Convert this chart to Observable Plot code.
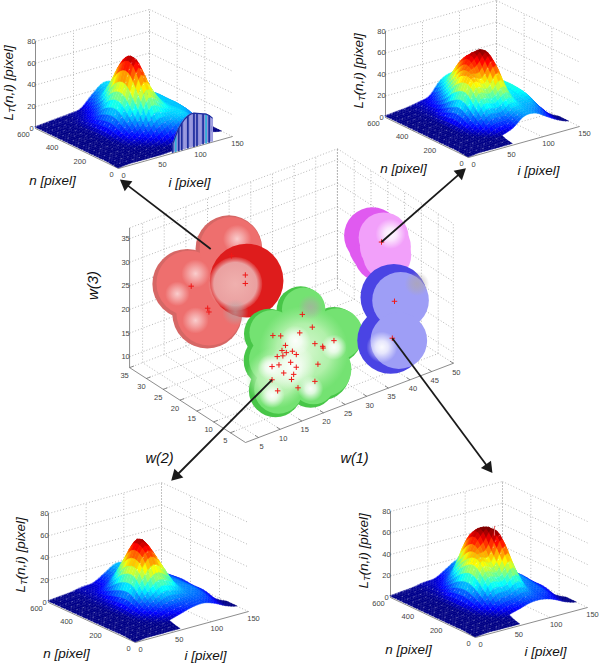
<!DOCTYPE html>
<html><head><meta charset="utf-8">
<style>html,body{margin:0;padding:0;background:#fff}svg{display:block}</style>
<script src="https://cdn.jsdelivr.net/npm/d3@7"></script>
<script src="https://cdn.jsdelivr.net/npm/@observablehq/plot@0.6"></script>
</head><body><script>
// ---------- surface data: L_T(n,i) (rows n=600..0, columns i=0..150) ----------
const nValues=[600,525,450,375,300,225,150,75,0];
const iValues=[0,15,30,45,60,75,90,105,120,135,150];
const _=null;
const surfaceTopLeft=[
[1,2,3,4,6,16,24,22,16,8,_],
[1,2,3,5,10,22,24,24,18,9,_],
[1,1,3,8,18,40,28,24,20,10,_],
[1,1,3,12,34,62,40,26,22,10,_],
[1,1,3,14,38,68,44,26,22,10,_],
[1,1,2,10,26,50,36,24,22,10,_],
[1,1,2,6,12,26,24,24,20,8,0],
[1,1,1,2,5,10,18,22,14,3,0],
[0,1,1,1,1,2,3,6,_,_,_]];
const surfaceTopRight=[
[1,2,3,5,8,20,24,22,18,8,_],
[1,2,3,6,14,30,28,24,20,9,_],
[1,1,3,8,26,48,34,24,22,10,_],
[1,1,3,14,40,56,58,26,24,10,_],
[1,1,3,18,42,40,54,24,24,10,_],
[1,1,3,12,28,26,34,20,22,9,_],
[1,1,2,6,14,14,20,18,16,6,0],
[1,1,1,2,4,8,16,16,10,4,0],
[0,1,1,1,1,_,_,_,_,_,_]];
const surfaceBottomLeft=[
[1,2,3,5,6,12,18,16,12,6,_],
[1,2,3,5,8,16,20,16,14,7,_],
[1,1,3,7,20,36,26,16,14,8,_],
[1,1,3,10,34,56,42,18,14,9,_],
[1,1,3,12,36,50,38,18,14,8,_],
[1,1,2,9,20,28,24,16,14,8,_],
[1,1,2,5,10,14,14,14,12,5,0],
[1,1,1,2,4,7,10,11,8,3,0],
[0,1,1,1,1,_,_,_,_,_,_]];
const surfaceBottomRight=[
[1,2,3,5,6,12,18,16,12,6,_],
[1,2,3,5,10,20,22,16,14,7,_],
[1,1,3,8,24,50,42,20,14,8,_],
[1,1,3,14,38,60,60,24,16,9,_],
[1,1,3,16,42,42,60,24,16,8,_],
[1,1,3,12,30,28,40,18,14,8,_],
[1,1,2,6,14,16,20,14,12,5,0],
[1,1,1,2,5,8,11,11,8,3,0],
[0,1,1,1,1,_,_,_,_,_,_]];
// front wall arch seen in the top-left panel
const wallI=[72,76,80,84,88,92,96,100,104,108,112,116,120,124];
const wallZ=[8,15,21,25,28,30,31,31,30,29,28,27,25,22];
const wallTone=[0,1,0,0,2,0,2,0,0,2,0,1,0,2];
// spike in the bottom-right panel
const spike={n:330,i:88,z:67,base:58};
// ---------- tick labels ----------
const nTicks=[0,200,400,600], iTicks=[0,50,100,150], zTicks=[0,20,40,60,80];
const w1Ticks=[5,10,15,20,25,30,35,40,45,50], w2Ticks=[5,10,15,20,25,30,35], w3Ticks=[10,15,20,25,30,35];
// ---------- feature clusters [w1,w2,w3] ----------
const greenPoints=[[22.5,23.3],[24.8,19.8],[21.9,19.6],[15.7,21.2],[17.5,20.5],[18.6,18.1],[17.8,17.3],[18.8,16.5],[20.2,16.3],[21.1,15.3],[16.7,16.4],[18,16.1],[25.4,16.1],[27.2,14.9],[27.3,14.5],[29.8,15.2],[15.5,14.7],[17.1,14.5],[19.8,14.1],[21.1,12.6],[26.1,11.5],[18.2,12.4],[20.5,11.3],[20,10.4],[15.5,11.9],[25.4,8.1],[21.5,8.1],[16.8,9.1]].map(d=>[d[0],10,d[1]]);
const redPoints=[[20.1,28,28.3],[23.3,28,23.1],[23.3,28,21.3],[10.8,28,25.1],[14.6,28,19.1],[14.9,28,18.2]];
const magentaPoints=[[36.9,5,35.9]];
const bluePoints=[[39.9,5,22.3],[39.4,5,14.65]];
// spheres [w1,w2,w3,radius]
const redSpheres=[[9.9,28,25.9,7.4],[19.5,28,30,7.06],[14.5,28,18,7.4]];
const redFront=[[23.6,28,21.8,7.8]];
const redHollow=[[21,28,22,5.7]];
const redShade=[[21,28,16,2.8]];
const redGlints=[[21.4,28,31.4,3],[11.8,28,27.4,3],[7.6,28,24.6,2.6],[11.8,28,17.5,2.8]];
const greenSpheres=[[22.1,10,24.3,5.1],[14.8,10,21.9,5.3],[29.8,10,16.3,6],[16.3,10,9.35,5.65],[24.4,10,7.95,5.1],[15.1,10,16.1,5.65],[22.8,10,15.5,7.8],[26.7,10,10,6.4]];
const greenPale=[[22.8,10,15.5,9.5],[16.5,10,12,6.5]];
const greenGlints=[[20.9,10,18.3,3.2],[29.8,10,13.8,2.7],[15.1,10,14.7,2.7],[15.5,10,8.6,2.7],[24.4,10,6.9,2.7],[20.1,10,13,5]];
const greenGrey=[[24.4,10,24.2,2.6]];
const magentaSpheres=[[34.8,5,38,6],[36,5,35.7,6.2],[37,5,33.4,6]];
const magentaBody=[[37.4,5,36.7,5.3],[37.8,5,34.6,5.4],[38.2,5,32.6,5.1]];
const blueSpheres=[[39.75,5,23.2,7.06],[39,5,14.3,7.06]];
const blueBody=[[41.3,5,22,6],[40.9,5,13.6,6]];
const whiteGlints=[[39,5,36.9,3.2],[37,5,13.6,3.3]];
const blueGrey=[[45.1,5,24.2,2.6]];

// ---------- layout ----------
const panels=[
 {g:surfaceTopLeft,o:[118,168],N:[-83,-40],I:[114,-32],Z:87,nl:[52,180],il:[189,182],zl:[8,120]},
 {g:surfaceTopRight,o:[468,157],N:[-83,-40],I:[111,-31],Z:86,nl:[403,168],il:[538,170],zl:[358,108]},
 {g:surfaceBottomLeft,o:[135,642],N:[-87,-40],I:[113,-31],Z:89,nl:[66,653],il:[205,655],zl:[20,592]},
 {g:surfaceBottomRight,o:[475,637],N:[-85,-40],I:[112,-30],Z:86,nl:[408,649],il:[545,651],zl:[363,588]}
];
const proj=(p,n,i,z)=>[p.o[0]+n/600*p.N[0]+i/150*p.I[0], p.o[1]+n/600*p.N[1]+i/150*p.I[1]-z/80*p.Z];
const wp=(a,b,c)=>[245+(a-2)*4.33-(b-.5)*3.36, 442-(a-2)*1.65-(b-.5)*2.17-(c-7.7)*4.72];
const W1=[2,50],W2=[.5,35],W3=[7.7,37.3];

// smooth sampling of the read grid for rendering only
function sampler(g){
 const R=g.length,C=g[0].length;
 const at=(r,c,fr,fc)=>{r=Math.max(0,Math.min(R-1,r));c=Math.max(0,Math.min(C-1,c));const v=g[r][c];return v==null?g[fr][fc]:v;};
 const cr=(a,b,c,d,t)=>.5*(2*b+(c-a)*t+(2*a-5*b+4*c-d)*t*t+(3*b-a-3*c+d)*t*t*t);
 return (r,c)=>{
  const r0=Math.min(R-2,Math.floor(r)),c0=Math.min(C-2,Math.floor(c)),tr=r-r0,tc=c-c0;
  const row=[];
  for(let k=-1;k<3;k++){
   const fr=Math.max(0,Math.min(R-1,r0+Math.min(1,Math.max(0,k))));
   const pts=[];for(let m=-1;m<3;m++){const fc=Math.max(0,Math.min(C-1,c0+Math.min(1,Math.max(0,m))));pts.push(at(r0+k,c0+m,fr,fc));}
   row.push(cr(pts[0],pts[1],pts[2],pts[3],tc));
  }
  return Math.max(0,cr(row[0],row[1],row[2],row[3],tr));
 };
}
const SUB=4;
const quads=[],speck=[];let qid=0;
panels.forEach((p,pi)=>{
 const g=p.g,f=sampler(g),maxZ=d3.max(g.flat())*1.04;
 const dn=nValues[0]-nValues[1],di=iValues[1]-iValues[0];
 const P=(r,c)=>proj(p,600-r*dn,c*di,f(r,c));
 for(let r=0;r<g.length-1;r++)for(let rs=0;rs<SUB;rs++){
  for(let c=g[0].length-2;c>=0;c--){
   if([g[r][c],g[r+1][c],g[r][c+1],g[r+1][c+1]].some(v=>v==null))continue;
   for(let cs=SUB-1;cs>=0;cs--){
    const r1=r+rs/SUB,r2=r+(rs+1)/SUB,c1=c+cs/SUB,c2=c+(cs+1)/SUB;
    const a=P(r1,c1),b=P(r1,c2),d=P(r2,c1),e=P(r2,c2);
    const v=(f(r1,c1)+f(r1,c2)+f(r2,c1)+f(r2,c2))/4/maxZ;
    qid++;
    quads.push({q:qid,v,x1:a[0],y1:a[1],x2:b[0],y2:b[1]},{q:qid,v,x1:d[0],y1:d[1],x2:e[0],y2:e[1]});
   }
  }
 }
 // speckle rows on the part of the mesh that faces the viewer
 for(let r=0;r<g.length-1;r+=.5){
  const nv=600-r*dn;
  for(let c=0;c<8.9;c+=.25){
   const cell=[g[Math.floor(r)][Math.floor(c)],g[Math.floor(r)+1][Math.floor(c)],g[Math.floor(r)][Math.floor(c)+1],g[Math.floor(r)+1][Math.floor(c)+1]];
   if(cell.some(v=>v==null))continue;
   const iv=c*di;
   if(nv>300&&iv>45)continue;
   if(iv>90)continue;
   const q=P(r,c);
   speck.push({k:pi+"-"+r,x:q[0],y:q[1]});
  }
 }
});

// axes of the four surface panels
const gridSeg=[],axisSeg=[],labels=[];
const seg=(arr,a,b)=>arr.push({x1:a[0],y1:a[1],x2:b[0],y2:b[1]});
panels.forEach(p=>{
 for(const z of zTicks.slice(1)){seg(gridSeg,proj(p,600,0,z),proj(p,600,150,z));seg(gridSeg,proj(p,600,150,z),proj(p,0,150,z));}
 for(const i of iTicks.slice(1)){seg(gridSeg,proj(p,600,i,0),proj(p,600,i,80));seg(gridSeg,proj(p,0,i,0),proj(p,600,i,0));}
 for(const n of nTicks.slice(1)){seg(gridSeg,proj(p,n,150,0),proj(p,n,150,80));seg(gridSeg,proj(p,n,0,0),proj(p,n,150,0));}
 seg(axisSeg,proj(p,0,0,0),proj(p,600,0,0));seg(axisSeg,proj(p,0,0,0),proj(p,0,150,0));seg(axisSeg,proj(p,600,0,0),proj(p,600,0,80));
 for(const n of nTicks){const q=proj(p,n,0,0);labels.push({x:q[0]-(n==600?12:n==0?7:11),y:q[1]+6,t:n,a:"middle"});}
 for(const i of iTicks){const q=proj(p,0,i,0);labels.push({x:q[0]+(i==150?5:i==0?5:6),y:q[1]+7,t:i,a:"middle"});}
 for(const z of zTicks){const q=proj(p,600,0,z);labels.push({x:q[0]-4,y:q[1],t:z,a:"end"});}
});
// central cube
for(const t of w1Ticks){seg(gridSeg,wp(t,W2[0],W3[0]),wp(t,W2[1],W3[0]));seg(gridSeg,wp(t,W2[1],W3[0]),wp(t,W2[1],W3[1]));
 const q=wp(t,W2[0],W3[0]);labels.push({x:q[0]+3,y:q[1]+9,t,a:"middle"});seg(axisSeg,q,[q[0]-3.4,q[1]-2.2]);}
for(const t of w2Ticks){seg(gridSeg,wp(W1[0],t,W3[0]),wp(W1[1],t,W3[0]));seg(gridSeg,wp(W1[1],t,W3[0]),wp(W1[1],t,W3[1]));
 const q=wp(W1[0],t,W3[0]);labels.push({x:q[0]-5,y:q[1]+8,t,a:"middle"});seg(axisSeg,q,[q[0]+4.3,q[1]-1.6]);}
for(const t of w3Ticks){seg(gridSeg,wp(W1[0],W2[1],t),wp(W1[1],W2[1],t));seg(gridSeg,wp(W1[1],W2[1],t),wp(W1[1],W2[0],t));
 const q=wp(W1[0],W2[1],t);labels.push({x:q[0]-4,y:q[1],t,a:"end"});}
seg(gridSeg,wp(W1[1],W2[1],W3[0]),wp(W1[1],W2[1],W3[1]));seg(gridSeg,wp(W1[1],W2[0],W3[0]),wp(W1[1],W2[0],W3[1]));seg(gridSeg,wp(W1[0],W2[1],W3[1]),wp(W1[1],W2[1],W3[1]));seg(gridSeg,wp(W1[1],W2[1],W3[1]),wp(W1[1],W2[0],W3[1]));
seg(axisSeg,wp(W1[0],W2[0],W3[0]),wp(W1[1],W2[0],W3[0]));seg(axisSeg,wp(W1[0],W2[0],W3[0]),wp(W1[0],W2[1],W3[0]));seg(axisSeg,wp(W1[0],W2[1],W3[0]),wp(W1[0],W2[1],W3[1]));

// wall in panel 1
const wallSeg=wallI.map((i,k)=>{const a=proj(panels[0],4,i,0),b=proj(panels[0],4,i,wallZ[k]);return {x1:a[0],y1:a[1],x2:b[0],y2:b[1],c:["#1d2d9e","#30b0d8","#9c9ce0"][wallTone[k]]};});
const wallFill=wallI.map((i,k)=>{const a=proj(panels[0],4,i,0),b=proj(panels[0],4,i,wallZ[k]);return {x1:a[0],y1:a[1],x2:b[0],y2:b[1]};});
const wallTop=wallFill.map(d=>({x:d.x2,y:d.y2}));
const sa=proj(panels[3],spike.n,spike.i,spike.base),sb=proj(panels[3],spike.n,spike.i,spike.z);

// arrows: from a cluster point towards the neighbouring panel
const arrowHeads=[[122,181],[463,170],[173,478],[490,470]];
const arrowStarts=[wp(15.3,28,31.4),wp(36.9,5,35.9),wp(15.5,10,11.9),wp(39.4,5,14.65)];
const arrows=arrowHeads.map((h,k)=>{const s=arrowStarts[k];const a=Math.atan2(h[1]-s[1],h[0]-s[0]);return {x1:s[0],y1:s[1],x2:h[0]-Math.cos(a)*6,y2:h[1]-Math.sin(a)*6,hx:h[0]-Math.cos(a)*4,hy:h[1]-Math.sin(a)*4,rot:a*180/Math.PI+90};});

const spheres=(arr,fill,dR=0,dw=0)=>Plot.dot(arr,{x:d=>wp(d[0]+dw,d[1],d[2])[0],y:d=>wp(d[0]+dw,d[1],d[2])[1],r:d=>(d[3]-dR)*4.72,fill});
const plus=(arr)=>Plot.dot(arr,{x:d=>wp(d[0],d[1],d[2])[0],y:d=>wp(d[0],d[1],d[2])[1],r:1.9,symbol:"plus",stroke:"#f01818",strokeWidth:1});
const txt=(x,y,t,o={})=>Plot.text([t],{x:()=>x,y:()=>y,text:d=>d,fontFamily:"Liberation Sans",fontStyle:"italic",fontSize:13.5,fill:"#111",...o});

const marks=[
 Plot.link(gridSeg,{x1:"x1",y1:"y1",x2:"x2",y2:"y2",stroke:"#9a9a9a",strokeWidth:.7,strokeDasharray:"1,2"}),
 Plot.link(axisSeg,{x1:"x1",y1:"y1",x2:"x2",y2:"y2",stroke:"#707070",strokeWidth:.8}),
 Plot.area(quads,{x1:"x1",y1:"y1",x2:"x2",y2:"y2",z:"q",fill:"v",stroke:"v",strokeWidth:.4}),
 Plot.line(speck,{x:"x",y:"y",z:"k",stroke:"#fff",strokeOpacity:.5,strokeWidth:.7,strokeDasharray:"0.7,6"}),
 Plot.area(wallFill,{x1:"x1",y1:"y1",x2:"x2",y2:"y2",fill:"#8f8fd8"}),
 Plot.link(wallSeg,{x1:"x1",y1:"y1",x2:"x2",y2:"y2",stroke:"c",strokeWidth:1.7}),
 Plot.line(wallTop,{x:"x",y:"y",stroke:"#1d2d9e",strokeWidth:1.2}),
 Plot.link([{}],{x1:()=>sa[0],y1:()=>sa[1],x2:()=>sb[0],y2:()=>sb[1],stroke:"#e87070",strokeWidth:1}),
 Plot.text(labels,{x:"x",y:"y",text:"t",textAnchor:"a",fontFamily:"Liberation Sans",fontSize:7.5,fill:"#444"}),
 // red cluster
 spheres(redSpheres,"#d66765"),spheres(redSpheres,"#ee6f6e",.5,.4),
 spheres(redGlints,"url(#glintPink)"),
 spheres(redFront,"#de1c1c"),spheres(redHollow,"url(#pink)"),spheres(redShade,"url(#grey)"),
 // green cluster
 spheres(greenSpheres,"#48c648"),spheres(greenSpheres,"#74e272",.5,.7),spheres(greenPale,"url(#pale)"),
 spheres(greenGrey,"url(#grey)"),spheres(greenGlints,"url(#glint)"),
 // magenta cluster
 spheres(magentaSpheres,"#e05af0"),spheres(magentaBody,"#f2a0fa"),spheres(whiteGlints.slice(0,1),"url(#glint)"),
 // blue cluster
 spheres(blueSpheres,"#4a44e4"),spheres(blueBody,"#9e9ef6"),spheres(blueGrey,"url(#grey)"),spheres(whiteGlints.slice(1),"url(#glint)"),
 plus(redPoints),plus(greenPoints),plus(magentaPoints),plus(bluePoints),
 // arrows
 Plot.link(arrows,{x1:"x1",y1:"y1",x2:"x2",y2:"y2",stroke:"#1a1a1a",strokeWidth:1.8}),
 Plot.dot(arrows,{x:"hx",y:"hy",r:6,symbol:"triangle2",fill:"#1a1a1a",rotate:"rot"}),
 // titles
 ...panels.flatMap(p=>[
  txt(p.nl[0],p.nl[1],"n [pixel]"),
  txt(p.il[0],p.il[1],"i [pixel]"),
  txt(p.zl[0],p.zl[1],"L",{rotate:-90,textAnchor:"start"}),
  txt(p.zl[0]+4,p.zl[1]-7.5,"T",{rotate:-90,textAnchor:"start",fontSize:9}),
  txt(p.zl[0],p.zl[1]-13,"(n,i) [pixel]",{rotate:-90,textAnchor:"start"})
 ]),
 txt(93,285,"w(3)",{rotate:-90,fontSize:15}),
 txt(159,458,"w(2)",{fontSize:14.5}),
 txt(354,458,"w(1)",{fontSize:14.5})
];

const svg=Plot.plot({
 width:600,height:663,margin:0,
 x:{domain:[0,600],range:[0,600],axis:null},
 y:{domain:[0,663],range:[0,663],axis:null},
 r:{type:"identity"},
 color:{type:"linear",domain:[0,.05,.125,.375,.625,.875,1],range:["#00007f","#00008f","#0000ff","#00ffff","#ffff00","#ff0000","#800000"],clamp:true},
 style:{background:"#fff"},
 marks
});
svg.insertAdjacentHTML("afterbegin",`<defs>
<radialGradient id="glint"><stop offset="0" stop-color="#fff" stop-opacity=".95"/><stop offset=".4" stop-color="#fff" stop-opacity=".75"/><stop offset="1" stop-color="#fff" stop-opacity="0"/></radialGradient>
<radialGradient id="glintPink"><stop offset="0" stop-color="#fbd8d8" stop-opacity=".9"/><stop offset=".4" stop-color="#f8c8c8" stop-opacity=".65"/><stop offset="1" stop-color="#f8c8c8" stop-opacity="0"/></radialGradient>
<radialGradient id="grey"><stop offset="0" stop-color="#b0a8a8" stop-opacity=".7"/><stop offset=".5" stop-color="#b0a8a8" stop-opacity=".45"/><stop offset="1" stop-color="#b0a8a8" stop-opacity="0"/></radialGradient>
<radialGradient id="pale"><stop offset="0" stop-color="#d8f8d2"/><stop offset=".6" stop-color="#c0f4b8" stop-opacity=".8"/><stop offset="1" stop-color="#a8f0a2" stop-opacity="0"/></radialGradient>
<radialGradient id="pink"><stop offset="0" stop-color="#f0b0ae"/><stop offset=".8" stop-color="#eaa0a0"/><stop offset="1" stop-color="#e88a8a" stop-opacity=".2"/></radialGradient>
</defs>`);
document.body.appendChild(svg);
</script></body></html>
